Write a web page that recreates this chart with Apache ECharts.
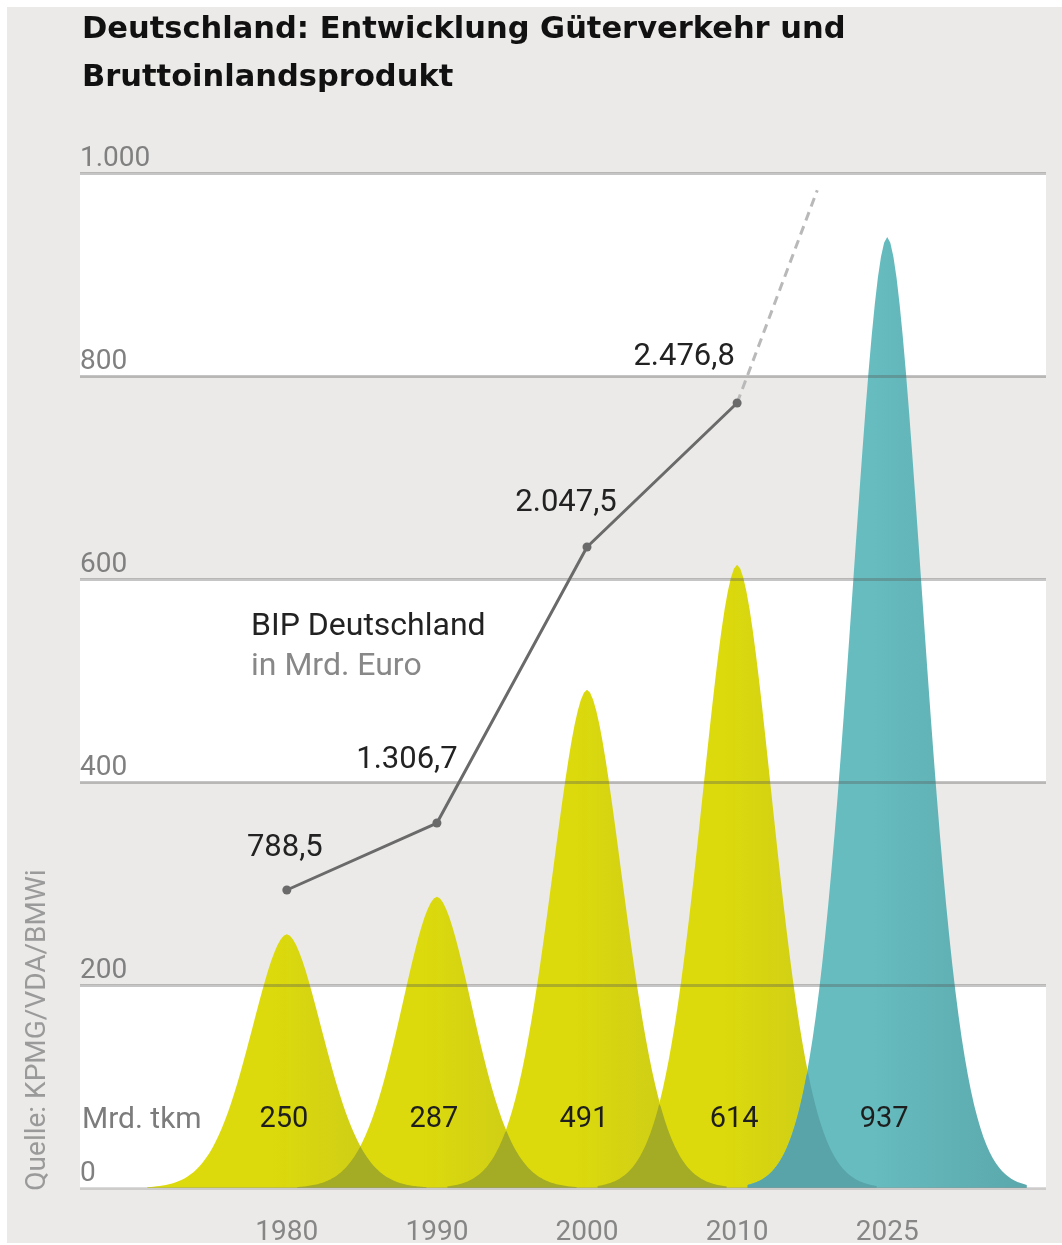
<!DOCTYPE html>
<html>
<head>
<meta charset="utf-8">
<script src="https://cdn.jsdelivr.net/npm/echarts@6/dist/echarts.min.js"></script>
<style>
  html, body { margin: 0; padding: 0; background: #ffffff; }
  #bg { position: absolute; left: 7px; top: 7px; width: 1055px; height: 1236px; background: #ebeae8; }
  #chart { position: absolute; left: 0; top: 0; width: 1062px; height: 1245px; }
</style>
</head>
<body>
<div id="bg"></div>
<div id="chart"></div>
<script>
// ---------- data ----------
const categories   = ['1980', '1990', '2000', '2010', '2025'];
const freightTkm   = [250, 287, 491, 614, 937];          // Güterverkehr, Mrd. tkm (peak heights)
const forecastFrom = 4;                                   // index of first projected category (2025)
const bipValues    = [788.5, 1306.7, 2047.5, 2476.8];     // BIP Deutschland, Mrd. Euro (labels)
const bipLevel     = [293.6, 359.6, 631.5, 773.4];        // height of the schematic BIP line on the left scale
const bipTrendEnd  = [3.534, 983];                        // end of the dashed projection (x in category units, y on left scale)
const yTicks       = [0, 200, 400, 600, 800, 1000];

// ---------- layout / style (not data) ----------
const bipLabelOffsets = [[-2, -42], [-30, -63], [-21, -44], [-53, -46]];
const SHAPE = { s: 0.353, p: 1.8, reach: 0.93 };
const FONT = 'Roboto, "Noto Sans", sans-serif';
const BAND_COLORS = ['#ffffff', '#ebeae8'];

function de(v, dec) {
  const s = v.toFixed(dec);
  let [i, f] = s.split('.');
  i = i.replace(/\B(?=(\d{3})+(?!\d))/g, '.');
  return f ? i + ',' + f : i;
}
function bell(dx, h) {
  return h * Math.exp(-Math.pow(Math.abs(dx) / SHAPE.s, SHAPE.p));
}
function fillFor(forecast) {
  const c = forecast ? ['#66bcbf', '#63b6b9', '#5aa8ac'] : ['#dcda0c', '#d6d411', '#c9c71c'];
  return new echarts.graphic.LinearGradient(0, 0, 1, 0, [
    { offset: 0, color: c[0] }, { offset: 0.45, color: c[0] },
    { offset: 0.6, color: c[1] }, { offset: 1, color: c[2] }
  ]);
}

const chart = echarts.init(document.getElementById('chart'), null, { renderer: 'canvas' });

function renderBand(params, api) {
  const cs = params.coordSys;
  const y0 = api.coord([0, api.value(0)])[1];
  const y1 = api.coord([0, api.value(1)])[1];
  return {
    type: 'rect',
    shape: { x: cs.x, y: y1, width: cs.width, height: y0 - y1 },
    style: { fill: BAND_COLORS[params.dataIndex % 2] }
  };
}

function renderBell(params, api) {
  const i = api.value(0), h = api.value(1);
  const N = 90, pts = [];
  for (let k = 0; k <= N; k++) {
    const x = i - SHAPE.reach + 2 * SHAPE.reach * k / N;
    pts.push(api.coord([x, bell(x - i, h)]));
  }
  pts.push(api.coord([i + SHAPE.reach, 0]));
  pts.push(api.coord([i - SHAPE.reach, 0]));
  const children = [{
    type: 'polygon', z2: 0, shape: { points: pts },
    style: { fill: fillFor(i >= forecastFrom) }
  }];
  const d = params.dataIndex;
  if (d > 0) {
    const hp = freightTkm[d - 1];
    const a = i - SHAPE.reach, b = (i - 1) + SHAPE.reach;
    const lens = [];
    for (let k = 0; k <= N; k++) {
      const x = a + (b - a) * k / N;
      lens.push(api.coord([x, Math.min(bell(x - i, h), bell(x - (i - 1), hp))]));
    }
    lens.push(api.coord([b, 0]));
    lens.push(api.coord([a, 0]));
    children.push({
      type: 'polygon', z2: 5, shape: { points: lens },
      style: { fill: i >= forecastFrom ? '#58a4a8' : '#a4ab25' }
    });
  }
  const base = api.coord([i, 0]);
  children.push({
    type: 'text', z2: 10, x: base[0] - 3, y: base[1] - 68,
    style: { text: String(h), fill: '#1e1e1e', font: '29px ' + FONT, align: 'center', verticalAlign: 'middle' }
  });
  return { type: 'group', children };
}

const option = {
  backgroundColor: 'transparent',
  animation: false,
  title: {
    text: 'Deutschland: Entwicklung Güterverkehr und\nBruttoinlandsprodukt',
    left: 77, top: 1,
    textStyle: { fontFamily: '"DejaVu Sans", sans-serif', fontWeight: 'bold', fontSize: 30.5, lineHeight: 48, color: '#111111' }
  },
  grid: { left: 80, right: 16, top: 173, bottom: 57, containLabel: false, outerBoundsMode: 'none' },
  xAxis: {
    type: 'value', min: -1.378, max: 5.058,
    splitLine: { show: false }, axisTick: { show: false }, axisLine: { show: false },
    axisLabel: {
      customValues: categories.map((c, i) => i),
      formatter: v => categories[Math.round(v)] || '',
      color: '#868686', fontSize: 28, fontFamily: FONT, margin: 31
    }
  },
  yAxis: [{
    type: 'value', min: 0, max: 1000, interval: 200,
    axisLine: { show: false }, axisTick: { show: false },
    splitLine: { show: false },
    axisLabel: {
      inside: true, margin: 0, align: 'left', verticalAlign: 'bottom',
      color: '#808080', fontSize: 28, fontFamily: FONT,
      formatter: v => de(v, 0)
    }
  }, {
    type: 'value', min: 0, max: 1000, interval: 200, z: 5,
    axisLine: { show: false }, axisTick: { show: false }, axisLabel: { show: false },
    splitLine: { show: true, lineStyle: { width: 3, color: ['rgba(150,150,150,0.35)', 'rgba(90,90,90,0.35)', 'rgba(90,90,90,0.35)', 'rgba(90,90,90,0.35)', 'rgba(90,90,90,0.35)', 'rgba(90,90,90,0.35)'] } }
  }],
  series: [{
    type: 'custom', name: 'Bänder', z: 0, silent: true,
    renderItem: renderBand,
    data: yTicks.slice(0, -1).map((v, k) => [v, yTicks[k + 1]]),
    encode: { y: [0, 1] }
  }, {
    type: 'custom', name: 'Güterverkehr',
    renderItem: renderBell,
    data: freightTkm.map((v, i) => [i, v]),
    encode: { x: 0, y: 1 }, z: 2
  }, {
    type: 'line', name: 'BIP Trend', z: 6,
    data: [[bipValues.length - 1, bipLevel[bipLevel.length - 1]], bipTrendEnd],
    symbol: 'none', lineStyle: { color: '#b9b9b9', width: 3, type: [9, 6] }
  }, {
    type: 'line', name: 'BIP Deutschland', z: 7,
    data: bipLevel.map((v, i) => ({
      value: [i, v],
      label: { offset: bipLabelOffsets[i] }
    })),
    symbol: 'circle', symbolSize: 9,
    itemStyle: { color: '#6a6a6a' },
    lineStyle: { color: '#6a6a6a', width: 3 },
    label: {
      show: true, position: 'inside', align: 'center', verticalAlign: 'middle',
      color: '#222222', fontSize: 31, fontFamily: FONT,
      formatter: p => de(bipValues[p.dataIndex], 1)
    }
  }],
  graphic: [
    { type: 'text', x: 251, y: 627, z: 100, style: { text: 'BIP Deutschland', fill: '#222222', font: '32px ' + FONT, verticalAlign: 'middle' } },
    { type: 'text', x: 251, y: 667, z: 100, style: { text: 'in Mrd. Euro', fill: '#888888', font: '32px ' + FONT, verticalAlign: 'middle' } },
    { type: 'text', x: 82, y: 1120, z: 100, style: { text: 'Mrd. tkm', fill: '#7c7c7c', font: '30px ' + FONT, verticalAlign: 'middle' } },
    { type: 'text', x: 38, y: 1030, z: 100, rotation: Math.PI / 2,
      style: { text: 'Quelle: KPMG/VDA/BMWi', fill: '#9a9a9a', font: '28px ' + FONT, align: 'center', verticalAlign: 'middle' } }
  ]
};
chart.setOption(option);
</script>
</body>
</html>
